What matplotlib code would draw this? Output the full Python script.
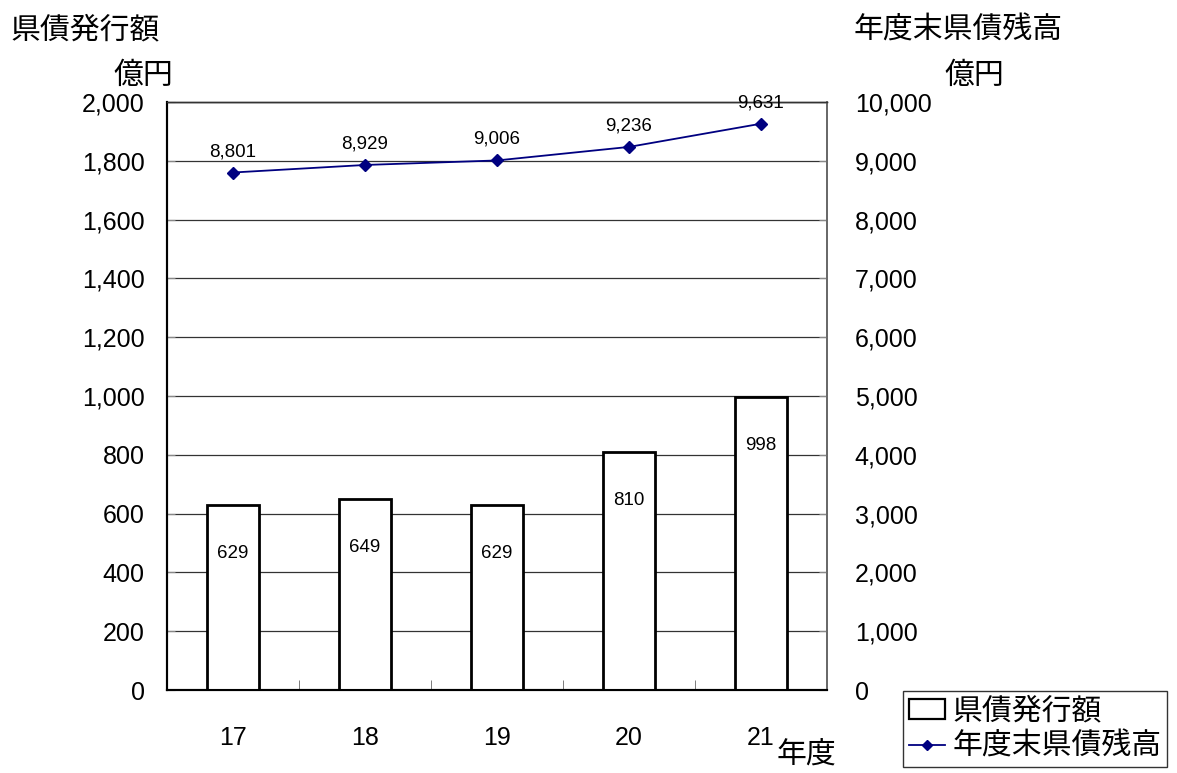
import matplotlib.pyplot as plt
from matplotlib.patches import Patch
from matplotlib.lines import Line2D
from matplotlib.ticker import FuncFormatter

# Arial-like digits, CJK glyphs fall back to Noto
plt.rcParams['font.family'] = ['Liberation Sans', 'Noto Sans CJK JP', 'DejaVu Sans']

# data
years = ['17', '18', '19', '20', '21']
issued = [629, 649, 629, 810, 998]          # 県債発行額 (億円)
balance = [8801, 8929, 9006, 9236, 9631]    # 年度末県債残高 (億円)

W, H = 1177, 773
fig = plt.figure(figsize=(W / 100, H / 100), dpi=100)
ax = fig.add_axes([167 / W, 1 - 690 / H, 660 / W, 588 / H])
ax2 = ax.twinx()

x = list(range(len(years)))

# bars
ax.bar(x, issued, width=0.39, color='white', edgecolor='black', linewidth=2, zorder=3)
for xi, v in zip(x, issued):
    ax.annotate(str(v), (xi, v), xytext=(0, -35), textcoords='offset points',
                ha='center', va='center', fontsize=13.5, zorder=4)

ax.set_xlim(-0.5, len(years) - 0.5)
ax.set_ylim(0, 2000)
ax.set_yticks(range(0, 2001, 200))
ax.yaxis.set_major_formatter(FuncFormatter(lambda v, p: f'{int(v):,}'))
ax.grid(axis='y', color='#333333', linewidth=0.9)
ax.set_axisbelow(True)

ax.set_xticks(x)
ax.set_xticklabels(years)
ax.set_xticks([i + 0.5 for i in x[:-1]], minor=True)
ax.tick_params(axis='x', which='major', length=0, pad=26, labelsize=18)
ax.tick_params(axis='x', which='minor', direction='in', length=7, color='#666666')
ax.tick_params(axis='y', direction='in', length=6, color='#888888', pad=16, labelsize=18)

# line
ax2.plot(x, balance, color='#000080', marker='D', markersize=6, linewidth=1.3, zorder=5)
for xi, v in zip(x, balance):
    ax2.annotate(f'{v:,}', (xi, v), xytext=(0, 9), textcoords='offset points',
                 ha='center', va='bottom', fontsize=13.5, annotation_clip=False)
ax2.set_ylim(0, 10000)
ax2.set_yticks(range(0, 10001, 1000))
ax2.yaxis.set_major_formatter(FuncFormatter(lambda v, p: f'{int(v):,}'))
ax2.tick_params(axis='y', direction='in', length=6, color='#888888', pad=20, labelsize=18)

for a in (ax, ax2):
    a.spines['left'].set_color('black')
    a.spines['left'].set_linewidth(1.5)
    a.spines['bottom'].set_color('black')
    a.spines['bottom'].set_linewidth(1.5)
    a.spines['top'].set_color('#333333')
    a.spines['top'].set_linewidth(1.0)
    a.spines['right'].set_color('#666666')
    a.spines['right'].set_linewidth(1.2)

# titles and units
fig.text(10 / W, 1 - 30 / H, '県債発行額', fontsize=21.5, ha='left', va='center')
fig.text(143 / W, 1 - 76 / H, '億円', fontsize=21.5, ha='center', va='center')
fig.text(958 / W, 1 - 30 / H, '年度末県債残高', fontsize=21.5, ha='center', va='center')
fig.text(974 / W, 1 - 76 / H, '億円', fontsize=21.5, ha='center', va='center')
fig.text(806 / W, 1 - 756 / H, '年度', fontsize=21.5, ha='center', va='center')

# legend
handles = [Patch(facecolor='white', edgecolor='black', linewidth=1.6),
           Line2D([0], [0], color='#000080', marker='D', markersize=5, linewidth=1.3)]
leg = fig.legend(handles, ['県債発行額', '年度末県債残高'], loc='lower left',
                 bbox_to_anchor=(903 / W, 1 - 767 / H), fontsize=21.5,
                 frameon=True, fancybox=False, edgecolor='black',
                 handlelength=1.2, handletextpad=0.25, borderpad=0.2,
                 labelspacing=0.25, borderaxespad=0)
leg.get_frame().set_linewidth(1.0)

fig.savefig('out.png', dpi=100)
